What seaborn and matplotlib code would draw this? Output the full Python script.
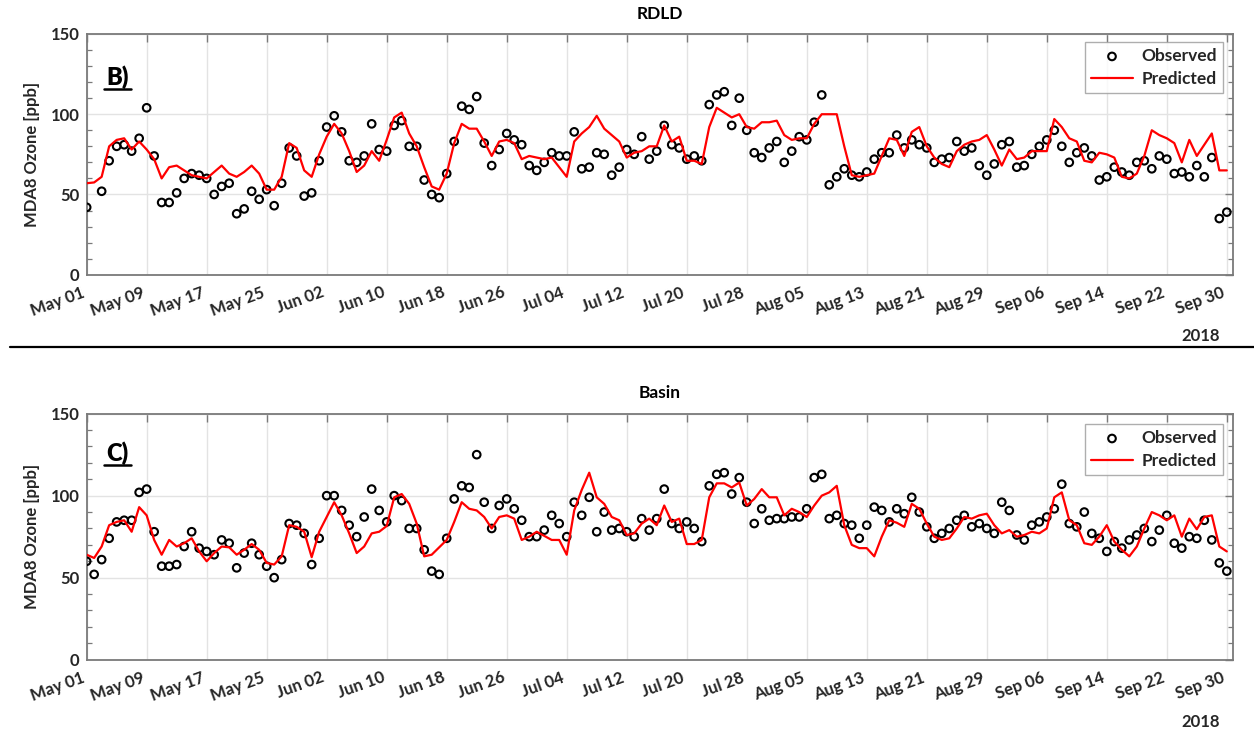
import numpy as np
import pandas as pd
import matplotlib
matplotlib.use("Agg")
import matplotlib.pyplot as plt
import matplotlib.dates as mdates
from matplotlib.lines import Line2D
from matplotlib.ticker import MultipleLocator
import seaborn as sns

# ------------------------------------------------------------------
# Data: daily MDA8 ozone, 2018-05-01 .. 2018-09-30
# ------------------------------------------------------------------
dates = pd.date_range("2018-05-01", "2018-09-30", freq="D")
tick_dates = pd.date_range("2018-05-01", "2018-09-30", freq="8D")

rdld_observed = [
    42, np.nan, 52, 71, 80, 81, 77, 85, 104, 74, 45, 45, 51, 60, 63, 62, 60, 50, 55, 57,
    38, 41, 52, 47, 53, 43, 57, 79, 74, 49, 51, 71, 92, 99, 89, 71, 70, 74, 94, 78,
    77, 93, 96, 80, 80, 59, 50, 48, 63, 83, 105, 103, 111, 82, 68, 78, 88, 84, 81, 68,
    65, 70, 76, 74, 74, 89, 66, 67, 76, 75, 62, 67, 78, 75, 86, 72, 77, 93, 81, 79,
    72, 74, 71, 106, 112, 114, 93, 110, 90, 76, 73, 79, 83, 70, 77, 86, 84, 95, 112, 56,
    61, 66, 62, 61, 64, 72, 76, 76, 87, 79, 84, 81, 79, 70, 72, 73, 83, 77, 79, 68,
    62, 69, 81, 83, 67, 68, 75, 80, 84, 90, 80, 70, 76, 79, 74, 59, 61, 67, 64, 62,
    70, 71, 66, 74, 72, 63, 64, 61, 68, 61, 73, 35, 39,
]
rdld_predicted = [
    57, 57.5, 61, 80, 84, 85, 78, 83, 78, 72, 60, 67, 68, 65, 62, 61, 60, 64, 68, 63,
    61, 64, 68, 63, 53, 53, 61, 82, 79, 65, 61, 75, 86, 94, 88, 77, 64, 68, 77, 71,
    84, 98, 101, 88, 80, 67, 55, 53, 63, 82, 94, 91, 91, 83, 74, 83, 84, 82, 72, 74,
    73, 72, 73, 67, 61, 83, 88, 92, 99, 91, 87, 83, 73, 76, 77, 80, 80, 93, 83, 86,
    71, 71, 69, 92, 104, 101, 98, 100, 92, 91, 95, 95, 96, 87, 84, 85, 85, 94, 100, 100,
    100, 80, 62, 61, 62, 63, 74, 85, 84, 74, 89, 92, 80, 73, 69, 67, 77, 81, 83, 84,
    87, 78, 68, 78, 72, 73, 77, 77, 77, 97, 92, 85, 83, 71, 70, 76, 75, 73, 61, 60,
    63, 74, 90, 87, 85, 82, 70, 84, 74, 81, 88, 65, 65,
]

basin_observed = [
    60, 52, 61, 74, 84, 85, 85, 102, 104, 78, 57, 57, 58, 69, 78, 68, 66, 64, 73, 71,
    56, 65, 71, 64, 57, 50, 61, 83, 82, 77, 58, 74, 100, 100, 91, 82, 75, 87, 104, 91,
    84, 100, 97, 80, 80, 67, 54, 52, 74, 98, 106, 105, 125, 96, 80, 94, 98, 92, 85, 75,
    75, 79, 88, 83, 75, 96, 88, 99, 78, 90, 79, 80, 78, 75, 86, 79, 86, 104, 83, 80,
    84, 80, 72, 106, 113, 114, 101, 111, 96, 83, 92, 85, 86, 86, 87, 87, 92, 111, 113, 86,
    88, 83, 82, 74, 82, 93, 91, 84, 92, 89, 99, 90, 81, 74, 77, 80, 85, 88, 81, 83,
    80, 77, 96, 91, 76, 73, 82, 84, 87, 92, 107, 83, 81, 90, 77, 74, 66, 72, 68, 73,
    76, 80, 72, 79, 88, 71, 68, 75, 74, 85, 73, 59, 54,
]
basin_predicted = [
    64, 62, 69, 82, 84, 85, 78, 93, 88, 73, 64, 73, 69, 71, 74, 66, 60, 65, 69, 68.5,
    64, 67, 70.5, 67, 59, 58, 63, 82, 81, 78, 62.5, 78, 87, 96, 88, 77, 65, 69, 77, 78,
    81.5, 99, 101, 95, 83, 63, 64, 68.5, 73, 84, 96, 92, 91, 87, 80, 87, 88, 86, 73, 75,
    78, 75.5, 73, 73, 64, 91, 103.5, 114, 99, 95, 87, 85, 76, 77, 83, 86, 82, 94, 84, 86,
    70.5, 70.5, 73, 99, 107.5, 107.5, 105, 108, 94, 98, 104, 99, 99, 88, 92, 90, 87, 94, 100, 102,
    106, 82, 70, 68, 68, 63, 75, 85, 83.5, 81, 95, 92, 83, 75, 73, 74, 80, 87, 86, 88,
    89, 82, 77, 79, 75, 76, 78, 77, 80, 99, 102, 85, 82, 71, 70, 75, 82, 72, 67, 63,
    69, 80, 90, 88, 85, 88, 75, 86, 79.5, 87, 88, 69, 66,
]

# ------------------------------------------------------------------
# Styling
# ------------------------------------------------------------------
sns.set_style("white")
plt.rcParams["font.family"] = ["Lato", "DejaVu Sans"]
plt.rcParams["font.weight"] = "bold"

SPINE_GREY = "#7a7a7a"
TEXT_GREY = "#262626"


def draw_panel(ax, observed, predicted, title, tag, legend_top, tag_y):
    df = pd.DataFrame({"date": dates, "Observed": observed, "Predicted": predicted})

    sns.scatterplot(data=df, x="date", y="Observed", ax=ax, marker="o", s=30,
                    color="black", facecolor="none", edgecolor="black",
                    linewidth=1.5, label="Observed", legend=False, zorder=3)
    sns.lineplot(data=df, x="date", y="Predicted", ax=ax, color="red",
                 linewidth=1.6, label="Predicted", legend=False, zorder=4)

    ax.set_xlim(dates[0], dates[-1] + pd.Timedelta(hours=20))
    ax.set_ylim(0, 150)
    ax.set_yticks([0, 50, 100, 150])
    ax.yaxis.set_minor_locator(MultipleLocator(10))
    ax.set_xticks(tick_dates)
    ax.xaxis.set_major_formatter(mdates.DateFormatter("%b %d"))

    ax.grid(True, which="major", color="#e3e3e3", linewidth=1.0)
    ax.set_axisbelow(True)
    for side in ["left", "right", "top", "bottom"]:
        ax.spines[side].set_color(SPINE_GREY)
        ax.spines[side].set_linewidth(1.3)

    ax.tick_params(axis="both", which="major", direction="in", length=6,
                   width=1.0, color=SPINE_GREY, top=True, right=True,
                   labelcolor=TEXT_GREY, labelsize=12)
    ax.tick_params(axis="y", which="minor", direction="in", length=3.5,
                   width=0.9, color=SPINE_GREY, left=True, right=True)
    ax.tick_params(axis="x", pad=7)
    ax.tick_params(axis="y", pad=5)
    for lbl in ax.get_xticklabels():
        lbl.set_rotation(20)
        lbl.set_ha("right")
        lbl.set_fontweight("bold")
    for lbl in ax.get_yticklabels():
        lbl.set_fontweight("bold")

    ax.set_xlabel("")
    ax.set_ylabel("MDA8 Ozone [ppb]", fontsize=12, fontweight="bold",
                  color=TEXT_GREY, labelpad=8)
    ax.set_title(title, fontsize=12.5, fontweight="bold", pad=11, color="black")

    # panel tag, underlined
    ax.text(0.017, tag_y, tag, transform=ax.transAxes, fontsize=17,
            fontweight="heavy", ha="left", va="baseline", color="black")
    ax.add_line(Line2D([0.015, 0.039], [tag_y - 0.017, tag_y - 0.017],
                       transform=ax.transAxes, color="black", linewidth=1.8))

    ax.text(1.0 - 0.028, -0.255, "2018", transform=ax.transAxes, fontsize=12,
            fontweight="bold", ha="center", va="center", color=TEXT_GREY)

    leg = ax.legend(loc="upper right", bbox_to_anchor=(0.9913, legend_top),
                    borderaxespad=0, fontsize=12.5, frameon=True, fancybox=False,
                    handlelength=2.4, handletextpad=0.5, scatterpoints=1,
                    labelspacing=0.4, borderpad=0.35)
    leg.get_frame().set_edgecolor("#9a9a9a")
    leg.get_frame().set_linewidth(1.0)
    for txt in leg.get_texts():
        txt.set_fontweight("bold")
        txt.set_color(TEXT_GREY)


fig = plt.figure(figsize=(12.54, 7.32), dpi=100)
ax_b = fig.add_axes([0.0691, 0.6247, 0.9142, 0.3289])
ax_c = fig.add_axes([0.0691, 0.0988, 0.9142, 0.3361])

draw_panel(ax_b, rdld_observed, rdld_predicted, "RDLD", "B)", 0.967, 0.79)
draw_panel(ax_c, basin_observed, basin_predicted, "Basin", "C)", 0.958, 0.81)

# horizontal separator between the panels
fig.add_artist(Line2D([0.008, 1.0], [1 - 347 / 732, 1 - 347 / 732],
                      transform=fig.transFigure, color="black", linewidth=1.6))

fig.savefig("out.png", dpi=100)
